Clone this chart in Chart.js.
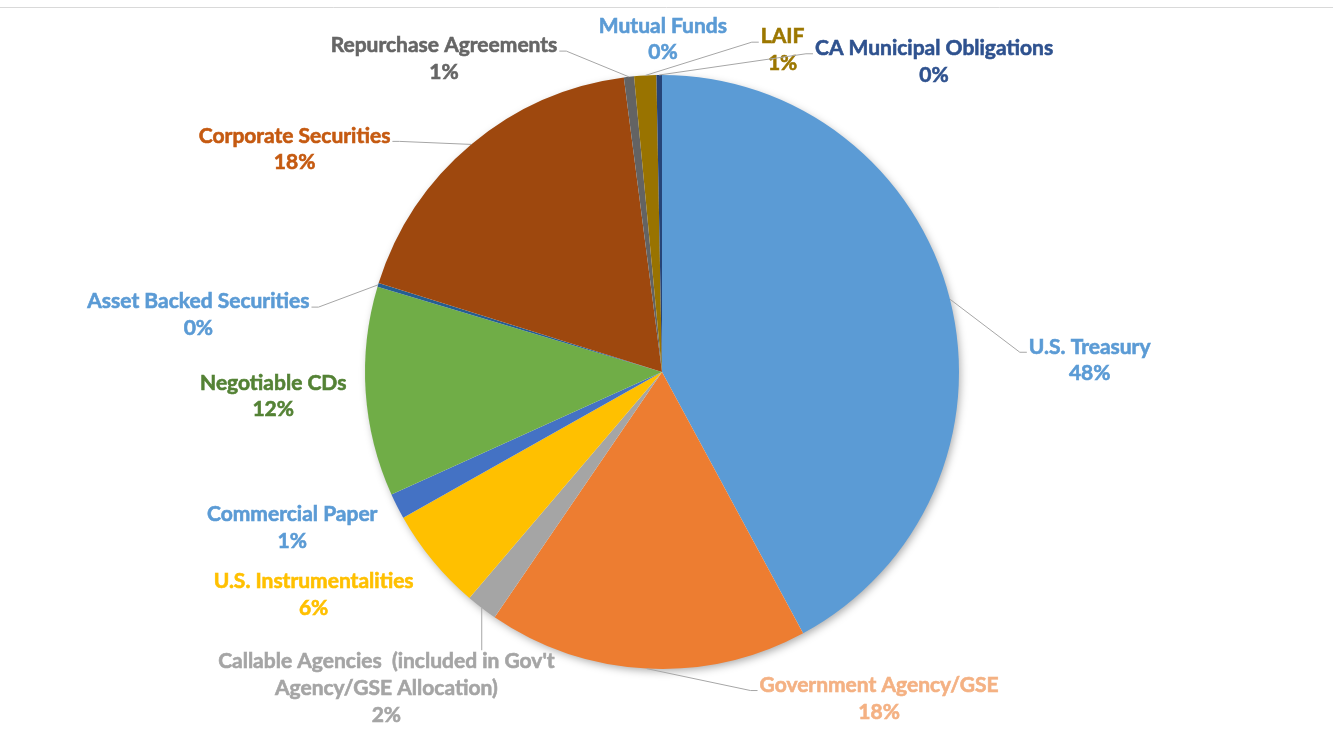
<!DOCTYPE html>
<html>
<head>
    <title>Portfolio Allocation</title>
    <script src="https://cdn.jsdelivr.net/npm/chart.js@4.4.0/dist/chart.umd.min.js"></script>
    <style>
        body { margin: 0; background: #fff; }
        #wrap { width: 1333px; height: 730px; position: relative; }
    </style>
</head>
<body>
<div id="wrap">
    <canvas id="myChart"></canvas>
</div>
<script>
    // slice order, clockwise from 12 o'clock
    var categories = [
        "U.S. Treasury",
        "Government Agency/GSE",
        "Callable Agencies  (included in Gov't Agency/GSE Allocation)",
        "U.S. Instrumentalities",
        "Commercial Paper",
        "Negotiable CDs",
        "Asset Backed Securities",
        "Corporate Securities",
        "Repurchase Agreements",
        "Mutual Funds",
        "LAIF",
        "CA Municipal Obligations"
    ];
    // share of the pie
    var shares = [42.1, 17.4, 1.7, 5.6, 1.4, 11.4, 0.2, 18.1, 0.55, 0, 1.2, 0.3];
    // percentages printed in the data labels
    var labelPercents = ["48%", "18%", "2%", "6%", "1%", "12%", "0%", "18%", "1%", "0%", "1%", "0%"];

    var sliceColors = ["#5B9BD5", "#ED7D31", "#A5A5A5", "#FFC000", "#4472C4", "#70AD47",
                       "#255E91", "#9E480E", "#636363", "#5B9BD5", "#997300", "#264478"];
    var labelColors = ["#5B9BD5", "#F4B183", "#A5A5A5", "#FFC000", "#5B9BD5", "#548235",
                       "#5B9BD5", "#C55A11", "#666666", "#5B9BD5", "#9C7700", "#2F528F"];

    // label text lines (callable label wraps onto two lines)
    var labelLines = [
        ["U.S. Treasury"],
        ["Government Agency/GSE"],
        ["Callable Agencies  (included in Gov't", "Agency/GSE Allocation)"],
        ["U.S. Instrumentalities"],
        ["Commercial Paper"],
        ["Negotiable CDs"],
        ["Asset Backed Securities"],
        ["Corporate Securities"],
        ["Repurchase Agreements"],
        ["Mutual Funds"],
        ["LAIF"],
        ["CA Municipal Obligations"]
    ];

    // where the first label line is centred, relative to pie centre, in units of radius
    var labelSpots = [
        [1.440, -0.085, true],
        [0.731, 1.054, true],
        [-0.928, 0.975, true],
        [-1.173, 0.704, false],
        [-1.245, 0.479, false],
        [-1.309, 0.037, false],
        [-1.561, -0.237, true],
        [-1.237, -0.795, true],
        [-0.734, -1.099, true],
        [0.003, -1.165, false],
        [0.406, -1.129, true],
        [0.916, -1.090, true]
    ];

    var lineHeight = 26.7;
    var labelFont = "bold 21px Lato, 'Open Sans', sans-serif";

    var pieLabels = {
        id: 'pieLabels',
        beforeDatasetsDraw: function(chart) {
            var ctx = chart.ctx;
            var arc = chart.getDatasetMeta(0).data[0];
            ctx.save();
            // chart area top border
            ctx.strokeStyle = '#D9D9D9';
            ctx.lineWidth = 1;
            ctx.beginPath();
            ctx.moveTo(0, 7.5);
            ctx.lineTo(chart.width, 7.5);
            ctx.stroke();
            // soft shadow behind the pie
            ctx.shadowColor = 'rgba(0,0,0,0.35)';
            ctx.shadowBlur = 9;
            ctx.shadowOffsetX = 2;
            ctx.shadowOffsetY = 3;
            ctx.fillStyle = '#ffffff';
            ctx.beginPath();
            ctx.arc(arc.x, arc.y, arc.outerRadius - 1, 0, Math.PI * 2);
            ctx.fill();
            ctx.restore();
        },
        afterDatasetsDraw: function(chart) {
            var ctx = chart.ctx;
            var meta = chart.getDatasetMeta(0);
            ctx.save();
            ctx.font = labelFont;
            ctx.textAlign = 'center';
            ctx.textBaseline = 'middle';
            meta.data.forEach(function(arc, i) {
                var r = arc.outerRadius;
                var lx = arc.x + labelSpots[i][0] * r;
                var ly = arc.y + labelSpots[i][1] * r;
                var lines = labelLines[i].concat([labelPercents[i]]);
                var w1 = ctx.measureText(lines[0]).width;

                if (labelSpots[i][2]) {
                    var mid = (arc.startAngle + arc.endAngle) / 2;
                    var px = arc.x + Math.cos(mid) * r;
                    var py = arc.y + Math.sin(mid) * r;
                    var left = lx - w1 / 2, right = lx + w1 / 2;
                    var top = ly - lineHeight / 2;
                    var ay = ly + 5.5;
                    ctx.strokeStyle = '#A6A6A6';
                    ctx.lineWidth = 1;
                    ctx.beginPath();
                    ctx.moveTo(px, py);
                    if (px > left && px < right) {
                        ctx.lineTo(px, top + 2);
                    } else if (px < left) {
                        ctx.lineTo(left - 9, ay);
                        ctx.lineTo(left - 2, ay);
                    } else {
                        ctx.lineTo(right + 9, ay);
                        ctx.lineTo(right + 2, ay);
                    }
                    ctx.stroke();
                }

                ctx.fillStyle = labelColors[i];
                ctx.strokeStyle = labelColors[i];
                ctx.lineWidth = 0.6;
                lines.forEach(function(t, k) {
                    ctx.fillText(t, lx, ly + k * lineHeight);
                    ctx.strokeText(t, lx, ly + k * lineHeight);
                });
            });
            ctx.restore();
        }
    };

    var ctx = document.getElementById('myChart').getContext('2d');
    var myChart = new Chart(ctx, {
        type: 'pie',
        data: {
            labels: categories,
            datasets: [{
                data: shares,
                backgroundColor: sliceColors,
                borderWidth: 0
            }]
        },
        options: {
            responsive: true,
            maintainAspectRatio: false,
            animation: false,
            layout: { padding: { top: 75, bottom: 61, left: 0, right: 9 } },
            plugins: {
                legend: { display: false },
                tooltip: { enabled: false }
            }
        },
        plugins: [pieLabels]
    });
</script>
</body>
</html>
